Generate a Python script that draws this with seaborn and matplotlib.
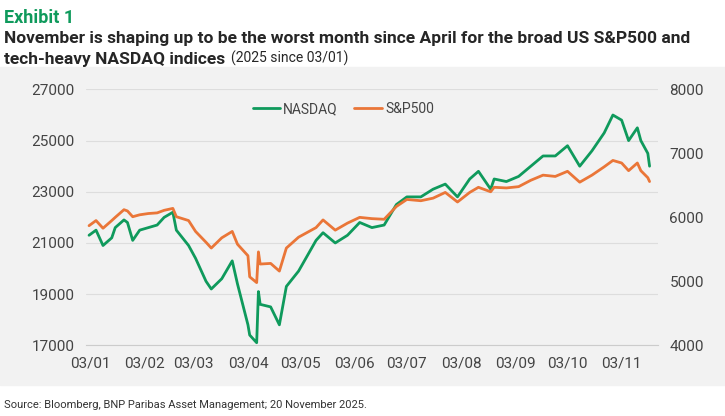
import pandas as pd
import numpy as np
import seaborn as sns
import matplotlib.pyplot as plt
import matplotlib.dates as mdates
from matplotlib.ticker import FuncFormatter

dates = ['2025-01-02','2025-01-06','2025-01-10','2025-01-15','2025-01-17','2025-01-22','2025-01-24','2025-01-27',
         '2025-01-31','2025-02-05','2025-02-10','2025-02-14','2025-02-19','2025-02-21','2025-02-28','2025-03-04',
         '2025-03-10','2025-03-13','2025-03-19','2025-03-25','2025-03-28','2025-04-03','2025-04-04','2025-04-08',
         '2025-04-09','2025-04-10','2025-04-16','2025-04-21','2025-04-25','2025-05-02','2025-05-12','2025-05-16',
         '2025-05-23','2025-05-30','2025-06-06','2025-06-13','2025-06-20','2025-06-27','2025-07-03','2025-07-11',
         '2025-07-18','2025-07-25','2025-08-01','2025-08-08','2025-08-13','2025-08-20','2025-08-22','2025-08-29',
         '2025-09-05','2025-09-12','2025-09-19','2025-09-26','2025-10-03','2025-10-10','2025-10-17','2025-10-24',
         '2025-10-29','2025-11-03','2025-11-07','2025-11-12','2025-11-14','2025-11-18','2025-11-19']
nasdaq = [21300,21500,20900,21200,21600,21900,21800,21100,21500,21600,21700,22000,22200,21500,20900,20400,
          19500,19200,19600,20300,19400,17800,17400,17100,19100,18600,18500,17800,19300,19900,21100,21400,
          21000,21300,21800,21600,21700,22500,22800,22800,23100,23300,22800,23500,23800,23100,23500,23400,
          23600,24000,24400,24400,24800,24000,24600,25300,26000,25800,25000,25500,25000,24500,24000]
spx = [5870,5950,5830,5950,6000,6120,6100,6010,6040,6060,6070,6110,6140,6010,5950,5780,
       5610,5520,5680,5780,5580,5400,5070,4980,5460,5270,5280,5160,5520,5690,5840,5960,
       5800,5910,6000,5980,5970,6170,6280,6260,6300,6390,6240,6390,6470,6400,6470,6460,
       6480,6580,6660,6640,6720,6550,6660,6790,6890,6850,6730,6850,6730,6620,6560]

df = pd.DataFrame({'date': pd.to_datetime(dates), 'NASDAQ': nasdaq, 'S&P500': spx})

green = '#0f9a5c'
orange = '#ea7638'
sns.set_style('white')
plt.rcParams['font.family'] = ['Roboto', 'DejaVu Sans']

fig = plt.figure(figsize=(7.25, 4.16), dpi=100)
fig.patches.append(plt.Rectangle((0, 0.075), 1, 0.765, transform=fig.transFigure, color='#f2f2f2', zorder=-1))
ax = fig.add_axes([0.118, 0.17, 0.79, 0.615])
ax.set_facecolor('none')
ax2 = ax.twinx()

sns.lineplot(data=df, x='date', y='NASDAQ', ax=ax, color=green, lw=2, label='NASDAQ', legend=False)
sns.lineplot(data=df, x='date', y='S&P500', ax=ax2, color=orange, lw=2, label='S&P500', legend=False)

ax.set_ylim(17000, 27000)
ax.set_yticks(range(17000, 27001, 2000))
ax2.set_ylim(4000, 8000)
ax2.set_yticks(range(4000, 8001, 1000))
ax.set_xlim(pd.Timestamp('2024-12-31'), pd.Timestamp('2025-11-24'))
ax.xaxis.set_major_locator(mdates.MonthLocator(bymonthday=3))
ax.xaxis.set_major_formatter(mdates.DateFormatter('%d/%m'))
ax.grid(axis='y', color='#dddddd', lw=0.8)
for a in (ax, ax2):
    a.set_xlabel('')
    a.set_ylabel('')
    for s in a.spines.values():
        s.set_visible(False)
    a.tick_params(length=0, labelsize=11, labelcolor='#444444', pad=8)
ax.spines['bottom'].set_visible(True)
ax.spines['bottom'].set_color('#cccccc')

h1, l1 = ax.get_legend_handles_labels()
h2, l2 = ax2.get_legend_handles_labels()
ax.legend(h1 + h2, l1 + l2, loc='upper center', bbox_to_anchor=(0.45, 1.0), ncol=2, frameon=False,
          fontsize=10, handlelength=2, handletextpad=0.2, columnspacing=1.2, labelcolor='#444444')

fig.text(0.005, 0.945, 'Exhibit 1', color=green, fontsize=13, fontweight='bold')
fig.text(0.005, 0.89, 'November is shaping up to be the worst month since April for the broad US S&P500 and',
         fontsize=12.5, fontweight='bold', va='bottom')
t2 = fig.text(0.005, 0.84, 'tech-heavy NASDAQ indices', fontsize=12.5, fontweight='bold', va='bottom')
fig.canvas.draw()
bb = t2.get_window_extent().transformed(fig.transFigure.inverted())
fig.text(bb.x1 + 0.008, 0.842, '(2025 since 03/01)', fontsize=10, va='bottom')
fig.text(0.005, 0.02, 'Source: Bloomberg, BNP Paribas Asset Management; 20 November 2025.', fontsize=8, color='#333333')

fig.savefig('out.png', dpi=100)
